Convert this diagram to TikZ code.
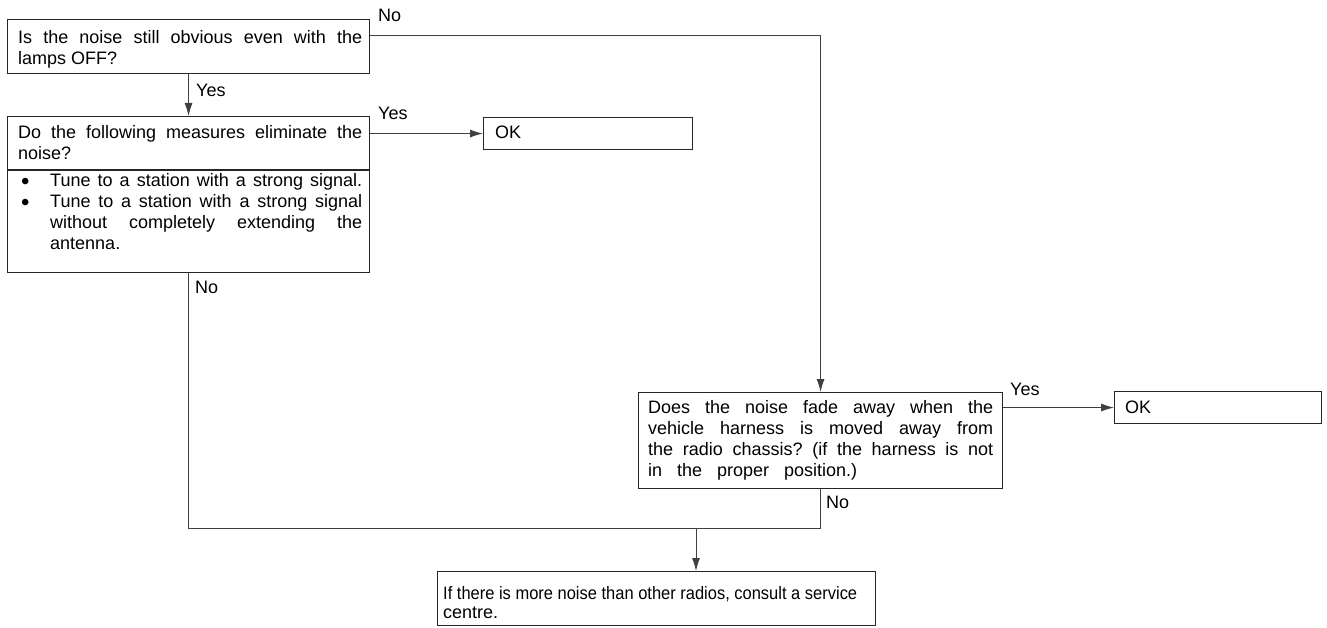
\documentclass[tikz,border=0pt]{standalone}
\usepackage{graphicx}
\usepackage{fontspec}
\setmainfont{Liberation Sans}
\usetikzlibrary{arrows.meta}
\frenchspacing
\newcommand{\bul}{\makebox[32pt][l]{\hspace*{3pt}\smash{\raisebox{-2.5pt}{\fontsize{24}{21}\selectfont\textbullet}}}}
\begin{document}
\begin{tikzpicture}[x=1pt,y=-1pt,
  box/.style={draw=black!85, line width=1.1pt, rectangle, inner sep=0pt, anchor=north west},
  txt/.style={inner sep=0pt, anchor=base west, font=\fontsize{18}{21}\selectfont\frenchspacing},
  lbl/.style={inner sep=0pt, anchor=base west, font=\fontsize{18}{21}\selectfont},
  conn/.style={draw=black!75, line width=0.9pt},
  arr/.style={conn, -{Latex[length=13pt,width=8pt]}}]
\useasboundingbox (0,0) rectangle (1327,628);

% boxes
\node[box, minimum width=362pt, minimum height=54pt]  (q1)  at (7,19) {};
\node[box, minimum width=362pt, minimum height=156pt] (q2)  at (7,116) {};
\node[box, minimum width=209pt, minimum height=32pt]  (ok1) at (483,117) {};
\node[box, minimum width=364pt, minimum height=96pt]  (q4)  at (638,392) {};
\node[box, minimum width=207pt, minimum height=32pt]  (ok2) at (1114,391) {};
\node[box, minimum width=438pt, minimum height=54pt]  (q5)  at (437,571) {};
\draw[draw=black!85, line width=1.1pt] (q2.west |- 0,170) -- (q2.east |- 0,170);

% texts
\node[txt] (q1t) at (18,44) {\parbox[t]{344pt}{\noindent\makebox[344pt][s]{Is the noise still obvious even with the}\\lamps OFF?}};
\node[txt] (q2t) at (18,139) {\parbox[t]{344pt}{\noindent\makebox[344pt][s]{Do the following measures eliminate the}\\noise?}};
\node[txt] (q2b) at (18,187) {\parbox[t]{344pt}{\noindent\bul\makebox[312pt][s]{Tune to a station with a strong signal.}\\\bul\makebox[312pt][s]{Tune to a station with a strong signal}\\\hspace*{32pt}\makebox[312pt][s]{without completely extending the}\\\hspace*{32pt}antenna.}};
\node[txt] (ok1t) at (495,139) {OK};
\node[txt] (q4t) at (648,413) {\parbox[t]{345pt}{\noindent\makebox[345pt][s]{Does the noise fade away when the}\\\makebox[345pt][s]{vehicle harness is moved away from}\\\makebox[345pt][s]{the radio chassis? (if the harness is not}\\\makebox[209pt][s]{in the proper position.)}}};
\node[txt] (ok2t) at (1125,413) {OK};
\node[txt] (q5t) at (443,599) {\parbox[t]{420pt}{\noindent\resizebox{414pt}{\height}{If there is more noise than other radios, consult a service}\\[-2pt]centre.}};

% labels
\node[lbl] (lNo1)  at (378,22)  {No};
\node[lbl] (lYes1) at (196,97)  {Yes};
\node[lbl] (lYes2) at (378,120) {Yes};
\node[lbl] (lNo2)  at (195,293) {No};
\node[lbl] (lNo3)  at (826,508) {No};
\node[lbl] (lYes3) at (1010,395) {Yes};

% connectors
\coordinate (c1) at (q4.north |- 0,35);
\coordinate (m) at (696,528);
\draw[arr] (q1.east |- c1) -- (c1) -- (q4.north);
\draw[arr] (q1.south) -- (q2.north);
\draw[arr] (q2.east |- ok1.west) -- (ok1.west);
\draw[arr] (q4.east |- ok2.west) -- (ok2.west);
\draw[conn] (q2.south) -- (q2.south |- m) -- (q4.south |- m) -- (q4.south);
\draw[arr] (m) -- (q5.north -| m);
\end{tikzpicture}
\end{document}
